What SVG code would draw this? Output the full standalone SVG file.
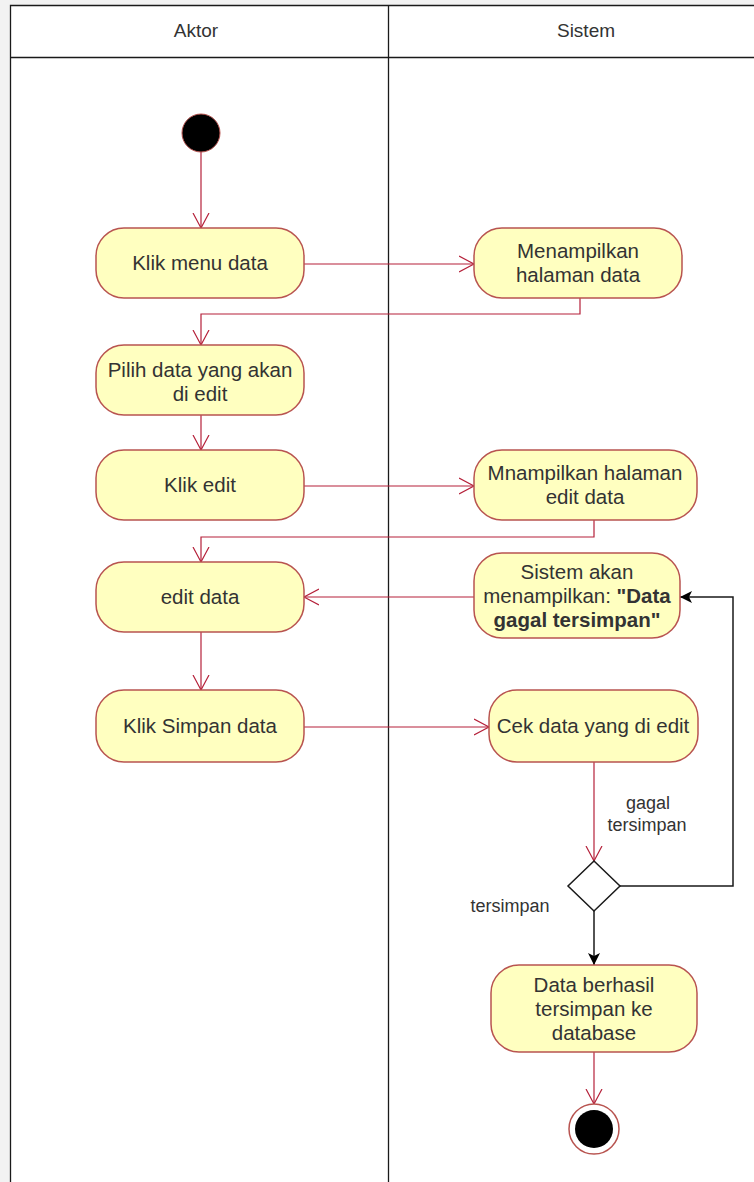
<svg xmlns="http://www.w3.org/2000/svg" width="754" height="1182" viewBox="0 0 754 1182">
  <style>
    .lane { fill: none; stroke: #1a1a1a; stroke-width: 1.3; }
    .act { fill: #ffffc0; stroke: #b85450; stroke-width: 1.5; }
    .t { font-family: "Liberation Sans", Arial, sans-serif; font-size: 20.5px; fill: #333333; text-anchor: middle; }
    .hd { font-family: "Liberation Sans", Arial, sans-serif; font-size: 19px; fill: #333333; text-anchor: middle; }
    .lbl { font-family: "Liberation Sans", Arial, sans-serif; font-size: 18px; fill: #333333; text-anchor: middle; }
    .flow { fill: none; stroke: #b5213a; stroke-width: 1.2; }
    .flowk { fill: none; stroke: #1a1a1a; stroke-width: 1.5; }
    .head { fill: none; stroke: #b5213a; stroke-width: 1.2; }
  </style>
  <defs>
    <marker id="open" markerWidth="18" markerHeight="18" refX="15" refY="9" orient="auto" markerUnits="userSpaceOnUse">
      <path d="M0,1 L15,9 L0,17" class="head"/>
    </marker>
    <marker id="solid" markerWidth="14" markerHeight="14" refX="12" refY="7" orient="auto" markerUnits="userSpaceOnUse">
      <path d="M0,1 L12,7 L0,13 L3,7 Z" fill="#000000"/>
    </marker>
  </defs>

  <!-- page margin -->
  <rect x="0" y="0" width="754" height="1182" fill="#f2f2f2"/>
  <rect x="10" y="5" width="744" height="1177" fill="#ffffff"/>

  <!-- swimlanes -->
  <g id="lanes">
    <path class="lane" d="M10.5,1182 V5.5 H754 M10.5,57.5 H754 M388.5,5.5 V1182"/>
    <text class="hd" x="196" y="37">Aktor</text>
    <text class="hd" x="586" y="37">Sistem</text>
  </g>

  <!-- connectors -->
  <g id="connectors">
    <path class="flow" d="M201,152 V228" marker-end="url(#open)"/>
    <path class="flow" d="M304,264 H474" marker-end="url(#open)"/>
    <path class="flow" d="M580,298 V314 H201 V345" marker-end="url(#open)"/>
    <path class="flow" d="M201,415 V450" marker-end="url(#open)"/>
    <path class="flow" d="M304,486 H474" marker-end="url(#open)"/>
    <path class="flow" d="M594,520 V537 H201 V562" marker-end="url(#open)"/>
    <path class="flow" d="M474,597 H304" stroke="#d9435c" stroke-width="2" marker-end="url(#open)"/>
    <path class="flow" d="M201,632 V690" marker-end="url(#open)"/>
    <path class="flow" d="M304,727 H489" marker-end="url(#open)"/>
    <path class="flow" d="M594,762 V861" marker-end="url(#open)"/>
    <path class="flowk" d="M620,886 H733 V597 H680" marker-end="url(#solid)"/>
    <path class="flowk" d="M594,911 V965" marker-end="url(#solid)"/>
    <path class="flow" d="M594,1052 V1104" marker-end="url(#open)"/>
    <text class="lbl" x="648" y="809">gagal</text>
    <text class="lbl" x="647" y="831">tersimpan</text>
    <text class="lbl" x="510" y="912">tersimpan</text>
  </g>

  <g id="start">
    <circle cx="201" cy="133" r="19" fill="#000000" stroke="#b85450" stroke-width="1"/>
  </g>

  <g id="klik-menu">
    <rect class="act" x="96" y="228" width="208" height="70" rx="28"/>
    <text class="t" x="200" y="270">Klik menu data</text>
  </g>

  <g id="tampil-halaman">
    <rect class="act" x="474" y="228" width="208" height="70" rx="28"/>
    <text class="t" x="578" y="258">Menampilkan</text>
    <text class="t" x="578" y="282">halaman data</text>
  </g>

  <g id="pilih-data">
    <rect class="act" x="96" y="345" width="208" height="70" rx="28"/>
    <text class="t" x="200" y="377">Pilih data yang akan</text>
    <text class="t" x="200" y="401">di edit</text>
  </g>

  <g id="klik-edit">
    <rect class="act" x="96" y="450" width="208" height="70" rx="28"/>
    <text class="t" x="200" y="492">Klik edit</text>
  </g>

  <g id="tampil-edit">
    <rect class="act" x="474" y="450" width="223" height="70" rx="28"/>
    <text class="t" x="585" y="480">Mnampilkan halaman</text>
    <text class="t" x="585" y="504">edit data</text>
  </g>

  <g id="edit-data">
    <rect class="act" x="96" y="562" width="208" height="70" rx="28"/>
    <text class="t" x="200" y="604">edit data</text>
  </g>

  <g id="pesan-gagal">
    <rect class="act" x="474" y="553" width="206" height="85" rx="28"/>
    <text class="t" x="577" y="579">Sistem akan</text>
    <text class="t" x="577" y="603">menampilkan: <tspan font-weight="bold">"Data</tspan></text>
    <text class="t" x="577" y="627" font-weight="bold">gagal tersimpan"</text>
  </g>

  <g id="klik-simpan">
    <rect class="act" x="96" y="690" width="208" height="72" rx="28"/>
    <text class="t" x="200" y="733">Klik Simpan data</text>
  </g>

  <g id="cek-data">
    <rect class="act" x="489" y="690" width="209" height="72" rx="28"/>
    <text class="t" x="593" y="733">Cek data yang di edit</text>
  </g>

  <g id="keputusan">
    <path d="M594,861 L620,886 L594,911 L568,886 Z" fill="#ffffff" stroke="#1a1a1a" stroke-width="1.5"/>
  </g>

  <g id="berhasil">
    <rect class="act" x="491" y="965" width="206" height="87" rx="28"/>
    <text class="t" x="594" y="992">Data berhasil</text>
    <text class="t" x="594" y="1016">tersimpan ke</text>
    <text class="t" x="594" y="1040">database</text>
  </g>

  <g id="end">
    <circle cx="594" cy="1129" r="25" fill="#ffffff" stroke="#b85450" stroke-width="1.5"/>
    <circle cx="594" cy="1129" r="19" fill="#000000"/>
  </g>
</svg>
